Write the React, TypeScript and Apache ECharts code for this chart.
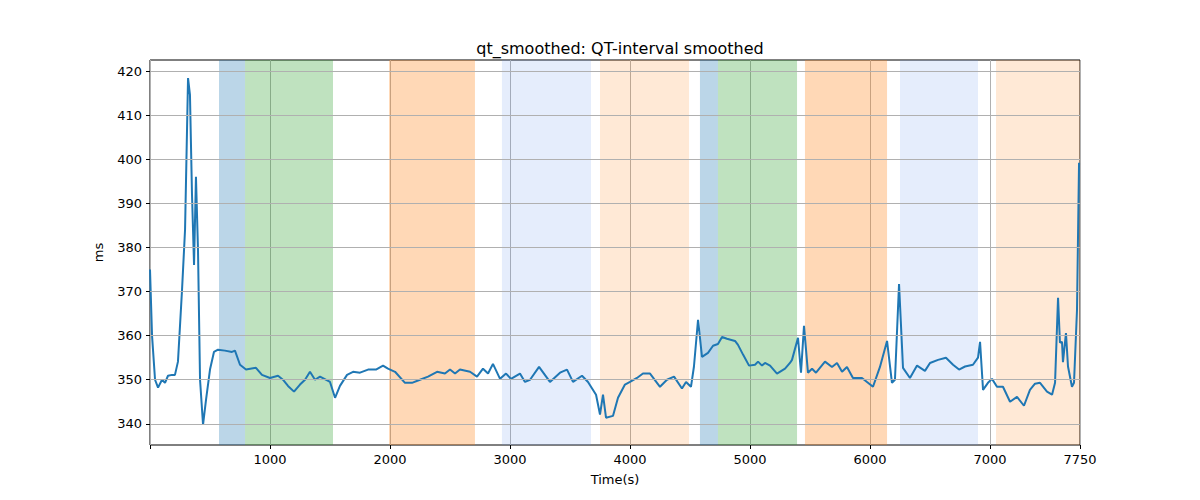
import React, { useEffect, useRef } from 'react';
import * as echarts from 'echarts';

const times = [
  0, 17, 42, 67, 100, 125, 150, 183, 208, 233, 267, 292, 317, 333, 350, 367, 383, 400, 417, 442,
  467, 500, 533, 567, 625, 683, 708, 750, 800, 883, 933, 1000, 1067, 1108, 1150, 1200, 1250, 1292, 1333, 1375,
  1417, 1500, 1542, 1583, 1642, 1692, 1750, 1817, 1883, 1942, 1983, 2042, 2125, 2183, 2250, 2317, 2392, 2458, 2500, 2542,
  2583, 2667, 2725, 2775, 2817, 2858, 2917, 2967, 3008, 3083, 3125, 3167, 3242, 3333, 3417, 3475, 3525, 3600, 3650, 3717,
  3750, 3775, 3800, 3858, 3900, 3958, 4000, 4058, 4108, 4167, 4250, 4308, 4367, 4433, 4467, 4508, 4533, 4567, 4600, 4650,
  4692, 4733, 4767, 4808, 4875, 4900, 4942, 4992, 5042, 5067, 5100, 5125, 5167, 5225, 5292, 5333, 5350, 5400, 5425, 5450,
  5483, 5517, 5550, 5625, 5683, 5725, 5767, 5808, 5858, 5933, 5975, 6025, 6083, 6142, 6183, 6208, 6242, 6275, 6333, 6392,
  6458, 6500, 6567, 6633, 6692, 6742, 6792, 6858, 6900, 6917, 6942, 6983, 7017, 7058, 7108, 7167, 7225, 7283, 7333, 7375,
  7417, 7475, 7517, 7542, 7567, 7583, 7600, 7608, 7633, 7650, 7683, 7700, 7725, 7742,
];
const qtValues = [
  375, 360, 350, 348.2, 350, 349.3, 350.9, 351.1, 351.1, 354.1, 370.4, 384, 418.4, 414.6, 392, 376, 396, 379.4, 350, 339.8,
  345.5, 352.3, 356.3, 356.8, 356.6, 356.3, 356.6, 353.4, 352.3, 352.7, 351.1, 350.4, 350.9, 350, 348.6, 347.3, 348.9, 350, 351.8, 350,
  350.7, 349.5, 345.9, 348.6, 351.1, 351.8, 351.6, 352.3, 352.3, 353.2, 352.5, 351.8, 349.3, 349.3, 350, 350.7, 351.8, 351.4, 352.3, 351.4,
  352.3, 351.8, 350.7, 352.5, 351.4, 353.6, 350.2, 351.4, 350.2, 351.4, 349.5, 350, 352.9, 349.5, 351.6, 352.3, 349.5, 350.9, 349.5, 346.6,
  342.1, 346.6, 341.4, 341.8, 345.9, 348.9, 349.5, 350.4, 351.4, 351.4, 348.4, 350, 350.7, 348, 349.5, 348.4, 353, 363.6, 355.2, 356.1,
  357.7, 358.1, 359.7, 359.3, 358.8, 357.9, 355.7, 353.2, 353.4, 354.1, 353.2, 353.8, 353.2, 351.4, 352.5, 353.8, 354.5, 359.5, 351.6, 362.2,
  351.6, 352.5, 351.6, 354.1, 352.9, 353.8, 351.8, 352.9, 350.4, 350.4, 349.5, 348.4, 352.9, 358.8, 349.3, 350, 371.7, 352.7, 350.4, 353.2,
  352, 353.8, 354.5, 355, 353.4, 352.3, 353, 353.4, 355, 358.6, 347.7, 349.3, 350.2, 348.4, 348.4, 345, 346.1, 344.1, 347.7, 349.1,
  349.3, 347.3, 346.6, 349.3, 368.6, 358.4, 358.6, 354, 360.6, 353, 348.4, 349.3, 365.8, 399.2,
];

// shaded segments: [start, end, colour]
const bandStarts = [575, 792, 1992, 2933, 3750, 4583, 4733, 5458, 6250, 7050];
const bandEnds = [792, 1525, 2708, 3675, 4492, 4733, 5392, 6142, 6900, 7750];
const bandColors = [
  'rgba(31,119,180,0.3)', 'rgba(44,160,44,0.3)', 'rgba(255,127,14,0.3)', 'rgba(100,149,237,0.17)', 'rgba(255,127,14,0.17)',
  'rgba(31,119,180,0.3)', 'rgba(44,160,44,0.3)', 'rgba(255,127,14,0.3)', 'rgba(100,149,237,0.17)', 'rgba(255,127,14,0.17)',
];
const yTicks = [340, 350, 360, 370, 380, 390, 400, 410, 420];

const App: React.FC = () => {
  const chartRef = useRef<HTMLDivElement | null>(null);

  useEffect(() => {
    document.body.style.margin = '0';
    const chart = echarts.init(chartRef.current!, undefined, { renderer: 'svg' });
    const font = 'DejaVu Sans';

    const option: echarts.EChartsOption = {
      animation: false,
      textStyle: { fontFamily: font },
      title: {
        text: 'qt_smoothed: QT-interval smoothed',
        left: 615,
        top: 35,
        textAlign: 'center',
        textStyle: { fontSize: 16, fontWeight: 'normal', color: '#000', fontFamily: font },
      },
      grid: { left: 150, right: 120, top: 60, bottom: 55, show: true, borderColor: '#000', borderWidth: 1 },
      xAxis: {
        type: 'value',
        min: 0,
        max: 7750,
        interval: 1000,
        name: 'Time(s)',
        nameLocation: 'middle',
        nameGap: 28,
        nameTextStyle: { fontSize: 13, color: '#000' },
        axisLine: { show: false },
        axisTick: { show: true, length: 4, lineStyle: { color: '#000' } },
        axisLabel: { fontSize: 13, color: '#000', formatter: (v: number) => (v === 0 ? '' : String(v)) },
        splitLine: { show: true, lineStyle: { color: '#b0b0b0', width: 1 } },
      },
      yAxis: {
        type: 'value',
        min: 335.2,
        max: 422.5,
        name: 'ms',
        nameLocation: 'middle',
        nameGap: 45,
        nameTextStyle: { fontSize: 13, color: '#000' },
        axisLine: { show: false },
        axisTick: { show: true, length: 4, lineStyle: { color: '#000' }, customValues: yTicks } as any,
        axisLabel: { fontSize: 13, color: '#000', customValues: yTicks } as any,
        splitLine: { show: false },
      },
      series: [
        {
          type: 'line',
          data: [],
          z: 1,
          silent: true,
          markArea: {
            silent: true,
            data: bandStarts.map((s, i) => [
              { xAxis: s, itemStyle: { color: bandColors[i] } },
              { xAxis: bandEnds[i] },
            ]) as any,
          },
        },
        {
          type: 'line',
          data: [],
          z: 2,
          silent: true,
          markLine: {
            silent: true,
            symbol: 'none',
            label: { show: false },
            lineStyle: { color: '#b0b0b0', type: 'solid', width: 1 },
            data: yTicks.map((v) => ({ yAxis: v })),
          },
        },
        {
          type: 'line',
          z: 3,
          showSymbol: false,
          smooth: false,
          lineStyle: { color: '#1f77b4', width: 2 },
          data: times.map((t, i) => [t, qtValues[i]]),
        },
      ],
    };

    chart.setOption(option);
    return () => {
      chart.dispose();
    };
  }, []);

  return <div ref={chartRef} style={{ width: '1200px', height: '500px' }} />;
};

export default App;
